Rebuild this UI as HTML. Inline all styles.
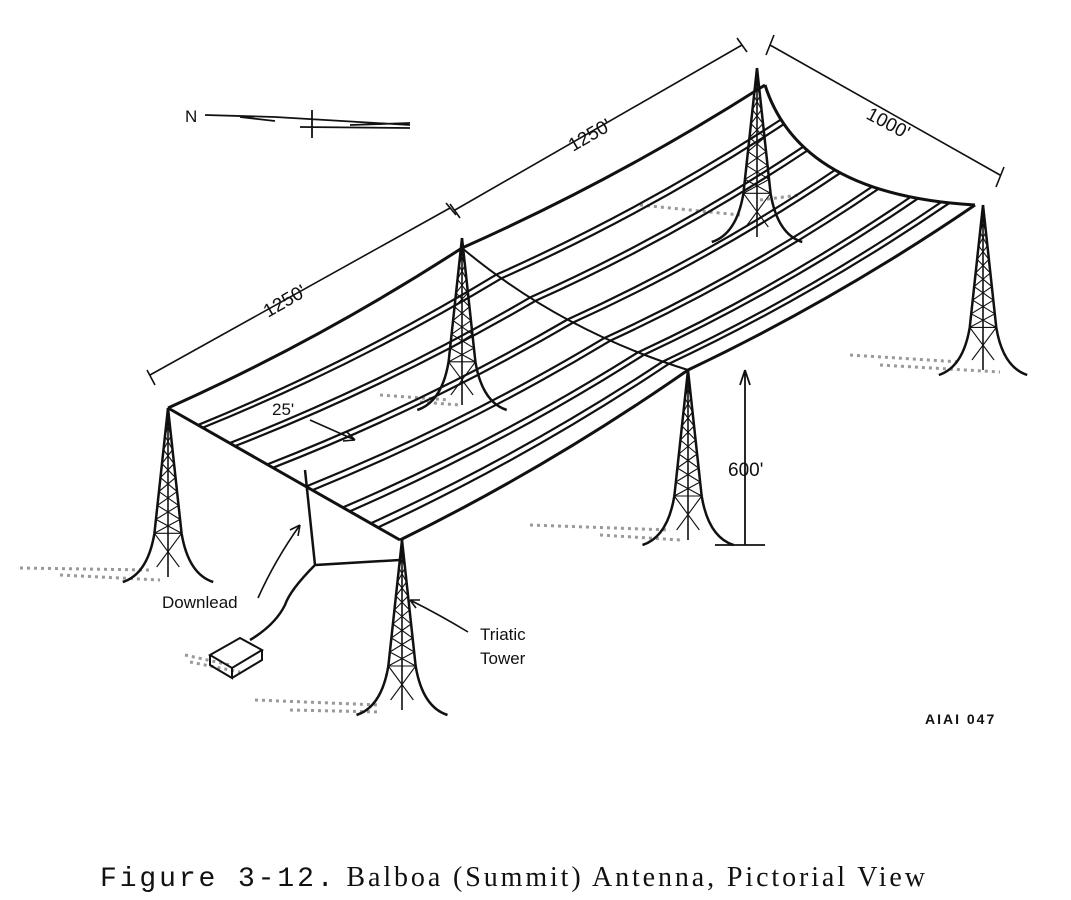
<!DOCTYPE html>
<html><head><meta charset="utf-8"><style>
html,body{margin:0;padding:0;background:#fff;}
svg{display:block}
</style></head><body>
<svg id="s" width="1071" height="900" viewBox="0 0 1071 900" xmlns="http://www.w3.org/2000/svg" font-family="Liberation Sans, sans-serif">
<g id="ground" stroke="#999" stroke-width="3" stroke-dasharray="3 4" fill="none">
<path d="M20 568 L150 570 M60 575 L160 580"/>
<path d="M185 655 L230 665 M190 662 L240 672"/>
<path d="M255 700 L380 705 M290 710 L380 712"/>
<path d="M530 525 L670 530 M600 535 L680 540"/>
<path d="M850 355 L960 362 M880 365 L1000 372"/>
<path d="M380 395 L450 400 M420 402 L460 405"/>
<path d="M640 205 L740 215 M760 200 L800 195"/>
</g>
<g id="g" fill="none" stroke="#111" stroke-width="2.4"></g>
<g font-size="17" fill="#111">
<text x="185" y="122">N</text>
<text x="0" y="0" transform="translate(268,318) rotate(-30)" font-size="19">1250'</text>
<text x="0" y="0" transform="translate(573,152) rotate(-30)" font-size="19">1250'</text>
<text x="0" y="0" transform="translate(865,118) rotate(28)" font-size="19">1000'</text>
<text x="272" y="415">25'</text>
<text x="728" y="476" font-size="19">600'</text>
<text x="162" y="608">Downlead</text>
<text x="480" y="640">Triatic</text>
<text x="480" y="664">Tower</text>
<text x="925" y="724" font-size="14" font-weight="bold" letter-spacing="2">AIAI 047</text>
</g>
<text x="100" y="886" font-family="Liberation Serif, serif" font-size="28" fill="#111" textLength="825" lengthAdjust="spacing"><tspan font-family="Liberation Mono, monospace">Figure 3-12.</tspan>  Balboa (Summit) Antenna, Pictorial View</text>
</svg>
<script>
var g=document.getElementById('g');var d='';
function P(s,w){var p=document.createElementNS('http://www.w3.org/2000/svg','path');p.setAttribute('d',s);if(w)p.setAttribute('stroke-width',w);g.appendChild(p);}
function q(a,c,b,t){var u=1-t;return[u*u*a[0]+2*u*t*c[0]+t*t*b[0],u*u*a[1]+2*u*t*c[1]+t*t*b[1]];}
var L=[[168,408],[250,455],[400,540]],M=[[462,248],[560,330],[688,370]],R=[[765,85],[800,195],[975,205]];
function stripe(s,w){var a=q(L[0],L[1],L[2],s),m=q(M[0],M[1],M[2],s),b=q(R[0],R[1],R[2],s);
P('M'+a+' Q'+[(a[0]+m[0])/2+5,(a[1]+m[1])/2+12]+' '+m+' Q'+[(m[0]+b[0])/2+5,(m[1]+b[1])/2+12]+' '+b,w);}
P('M'+L[0]+' Q'+L[1]+' '+L[2],3);P('M'+M[0]+' Q'+M[1]+' '+M[2],2);P('M'+R[0]+' Q'+R[1]+' '+R[2],3);
stripe(0,3);stripe(1,3);
[0.17,0.33,0.5,0.66,0.8,0.9].forEach(function(s){stripe(s,2.2);stripe(s+0.025,2.2);});
function tower(x,y,by){var h=by-y,w=h*0.13;
var k=y+h*0.72;
P('M'+x+','+y+' L'+(x-w*0.6)+','+k+' Q'+(x-w*0.9)+','+(by-8)+' '+(x-w*2)+','+by,2.5);
P('M'+x+','+y+' L'+(x+w*0.6)+','+k+' Q'+(x+w*0.9)+','+(by-8)+' '+(x+w*2)+','+by,2.5);
P('M'+x+','+y+' L'+x+','+(by-5),1.6);
var s='';for(var i=1;i<10;i++){var t1=(i-1)/9,t2=i/9;var y1=y+(k-y)*t1,y2=y+(k-y)*t2;
s+='M'+(x-w*0.6*t1)+','+y1+' L'+(x+w*0.6*t2)+','+y2+' M'+(x+w*0.6*t1)+','+y1+' L'+(x-w*0.6*t2)+','+y2+' ';}
s+='M'+(x-w*0.6)+','+k+' L'+(x+w*0.6)+','+k+' L'+(x-w*0.5)+','+(by-15)+' M'+(x+w*0.6)+','+k+' L'+(x-w*0.6)+','+k+' L'+(x+w*0.5)+','+(by-15);
P(s,1.1);}
tower(168,408,582);tower(462,238,410);tower(757,68,242);tower(983,205,375);tower(688,370,545);tower(402,540,715);
P('M150,375 L450,208 M147,370 L155,385 M446,203 L456,215',1.6);
P('M455,210 L742,45 M450,204 L460,218 M737,38 L747,52',1.6);
P('M770,45 L1000,175 M774,35 L766,55 M1004,167 L996,187',1.6);
P('M745,370 L745,545 M715,545 L765,545 M745,370 L740,385 M745,370 L750,385',1.8);
P('M310,420 L355,440 M355,440 L343,441 M355,440 L347,432',1.6);
P('M205,115 L275,117 M240,117 L275,121 M275,117 L410,125 M300,127 L410,128 M312,110 L312,138 M350,125 L410,123',1.8);
P('M305,470 L315,565 L400,560 M315,565 Q290,590 285,605 Q275,625 250,640',2.5);
P('M258,598 Q275,560 300,525 M300,525 L290,530 M300,525 L298,536',1.6);
P('M468,632 Q440,615 410,600 M410,600 L420,600 M410,600 L416,608',1.6);
P('M210,655 L240,638 L262,650 L232,668 Z M210,655 L210,665 L232,678 L232,668 M262,650 L262,660 L232,678',2);
</script>
</body></html>
